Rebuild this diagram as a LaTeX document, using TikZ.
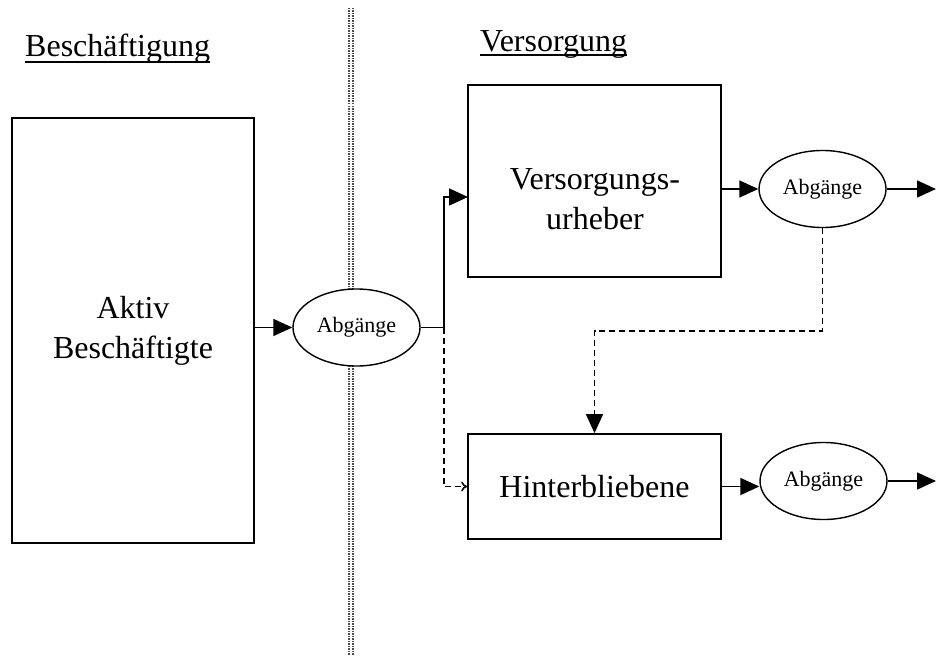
\documentclass[tikz,border=0pt]{standalone}
\usepackage{fontspec}
\setmainfont{Liberation Serif}
\usetikzlibrary{arrows.meta,shapes.geometric,calc}
\begin{document}
\begin{tikzpicture}[x=1pt,y=-1pt,
  box/.style={draw,line width=1.7pt,inner sep=0pt},
  ell/.style={draw,ellipse,line width=1.4pt,fill=white,minimum width=127pt,minimum height=77pt,inner sep=0pt,font=\fontsize{22}{26}\selectfont},
  big/.style={font=\fontsize{32}{40}\selectfont,align=center},
  tri/.style={-{Triangle[length=19pt,width=17pt]}},
  arr/.style={line width=1.6pt,tri},
  dsh/.style={line width=1.5pt,dash pattern=on 6pt off 4pt},
  sep/.style={black!70,line width=2pt,dash pattern=on 1.5pt off 1pt},
  uline/.style={line width=1.4pt},
  ]
\useasboundingbox (0,0) rectangle (936,658);
% separator
\coordinate (vt) at (351,8);
\coordinate (vb) at (351,655);
\draw[sep] ([xshift=-2pt]vt) -- ([xshift=-2pt]vb);
\draw[sep] ([xshift=2pt]vt) -- ([xshift=2pt]vb);
% titles
\node[big,anchor=base west,inner sep=0pt] (t1) at (25,57) {Beschäftigung};
\draw[uline] ([yshift=-5pt]t1.base west) -- ([yshift=-5pt]t1.base east);
\node[big,anchor=base west,inner sep=0pt] (t2) at (480,52) {Versorgung};
\draw[uline] ([yshift=-3pt]t2.base west) -- ([yshift=-3pt]t2.base east);
% boxes
\node[box,big,minimum width=242pt,minimum height=425pt] (ab) at (133,330.5) {Aktiv\\Beschäftigte};
\node[box,minimum width=253pt,minimum height=192pt] (vu) at (594.5,181) {};
\node[big] (vut) at (595,199) {Versorgungs-\\urheber};
\node[box,big,minimum width=253pt,minimum height=105pt] (hb) at (594.5,486.5) {Hinterbliebene};
% ellipses
\node[ell] (e1) at (356.5,327.5) {Abgänge};
\node[ell] (e2) at (822.5,189) {Abgänge};
\node[ell] (e3) at (823.5,481) {Abgänge};
% connectors
\draw[arr] (ab.east |- e1.west) -- (e1.west);
\coordinate (j) at (444,327.5);
\coordinate (vuin) at (468,197);
\draw[line width=1.6pt] (e1.east) -- (j);
\draw[arr] (j) -- (j |- vuin) -- (vuin);
\draw[dsh,-{To[length=6pt,width=10pt]}] (j) |- (hb.west);
\draw[arr] (vu.east |- e2.west) -- (e2.west);
\coordinate (o2) at (936,189);
\draw[arr] (e2.east) -- (o2);
\coordinate (d1) at (0,331);
\draw[dsh,tri] (e2.south) |- (hb.north |- d1) -- (hb.north);
\draw[arr] (hb.east) -- (hb.east -| e3.west);
\coordinate (o3) at (936,481);
\draw[arr] (e3.east) -- (o3);
\end{tikzpicture}
\end{document}
